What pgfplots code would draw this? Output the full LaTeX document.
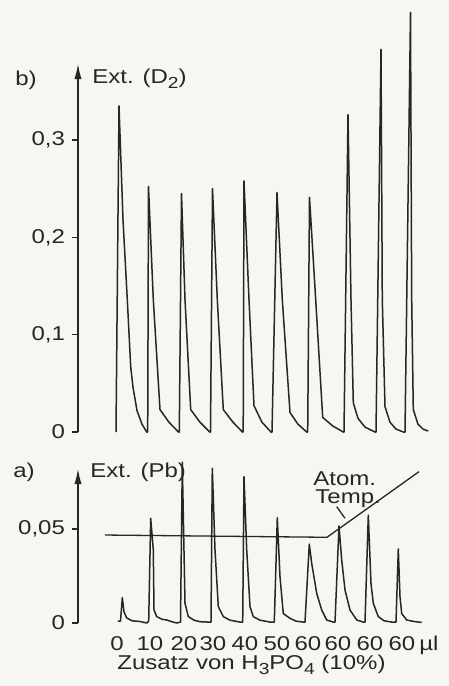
\documentclass[border=0pt]{standalone}
\usepackage{pgfplots}
\pgfplotsset{compat=1.18}
\usepackage{pgfplotstable}
\usepackage{fontspec}
\setmainfont[FakeStretch=1.2]{Liberation Sans}
\usetikzlibrary{arrows.meta}
\definecolor{ink}{RGB}{38,38,38}
\definecolor{paper}{RGB}{246,246,243}
\newcommand{\lsub}[1]{\raisebox{-2.6pt}{\fontsize{8}{9}\selectfont #1}}

% Ext. (D2) trace, x in arbitrary time units
\pgfplotstableread{
x y
116 0
119 0.335
123 0.218
127.3 0.136
130.7 0.067
133 0.046
137 0.022
142 0.008
146.7 0
147.7 0
148.5 0.252
153.3 0.136
160 0.023
169 0.010
178.5 0
179.3 0
181.5 0.245
185 0.136
190.7 0.023
200 0.010
209.8 0
210.5 0
212.5 0.250
217.3 0.136
223.3 0.023
233 0.010
242.5 0
243.2 0
244 0.258
249 0.136
254 0.027
262 0.010
271 0
272 0
277 0.246
282.3 0.136
290 0.020
298 0.008
306.7 0
307.7 0
309.5 0.241
315.7 0.136
322.7 0.015
333 0.006
343.3 0
344 0
348 0.326
351 0.136
353.3 0.030
358 0.014
365 0.005
375 0
376 0
381 0.393
382.3 0.136
385 0.026
390 0.010
396 0.003
403.3 0
405 0
410.5 0.431
411.7 0.136
413.3 0.023
418 0.008
423 0.003
428.3 0.001
}\traceD

% Ext. (Pb) trace
\pgfplotstableread{
x y
118 0.001
120.5 0.001
122.3 0.0135
124 0.006
126.7 0.0027
132 0.0012
140 0.0008
146.7 0
148.7 0.001
150.7 0.0557
153.3 0.039
154 0.007
156.7 0.0034
162 0.002
166.7 0.0016
171.7 0.0007
176.7 0
180.5 0.0005
182.3 0.0855
185 0.0105
188.3 0.0034
194 0.0015
200 0.0007
208.3 0.0005
211 0.0005
212.3 0.0823
215 0.039
218.3 0.0087
223.3 0.0034
230 0.0015
240 0.0005
242.7 0.0005
244 0.0778
246.7 0.039
250 0.0087
253.3 0.0034
260 0.0015
270 0.0005
274.3 0.0005
277.3 0.056
280 0.0246
283.3 0.005
290 0.0025
296 0.001
303.3 0.0005
305 0.0005
309.3 0.042
311.7 0.0317
316.7 0.0158
321.7 0.0069
326.7 0.0016
333.3 0.0005
335 0.0005
339 0.0516
341.7 0.0335
345 0.0176
350 0.0069
356.7 0.0016
363.3 0.0005
365 0.0005
368.3 0.0574
371 0.021
373.3 0.0105
378.3 0.0034
384 0.0012
391.7 0.0005
396 0.0005
398.3 0.0394
400 0.014
401.7 0.005
406.7 0.0016
414 0.0008
421.7 0.0003
}\tracePb

\begin{document}
\fontsize{10}{11}\selectfont
\begin{tikzpicture}[font=\fontsize{10}{11}\selectfont]
\path[use as bounding box, fill=paper] (0,0) rectangle (224.5pt,-343pt);

\pgfplotsset{
  common/.style={
    scale only axis, width=176pt, xmin=78, xmax=430, ymin=0, clip=false,
    scaled y ticks=false,
    axis y line=left,
    y axis line style={ink, line width=1pt, -{Latex[length=8pt,width=3.6pt]}},
    tick align=outside, major tick length=3pt,
    ytick style={ink, line width=0.7pt},
    tick label style={font=\fontsize{10}{11}\selectfont, text=ink},
  }
}

\begin{axis}[common,
  at={(39pt,-216pt)}, anchor=south west,
  height=184.5pt, ymax=0.3791,
  axis x line=none,
  ytick={0,0.1,0.2,0.3},
  yticklabels={{0\hspace{6.5pt}},{0,1},{0,2},{0,3}},
]
\addplot[ink, line width=0.75pt, line join=round] table[x=x, y=y] {\traceD};
\end{axis}

\begin{axis}[common,
  at={(39pt,-311.5pt)}, anchor=south west,
  height=77.5pt, ymax=0.08245,
  axis x line=bottom, x axis line style={draw=none},
  xtick={117,150,184,213,245,277,308,338,370,402,429},
  xticklabels={0,10,20,30,40,50,60,60,60,60,µl},
  xtick style={draw=none},
  xticklabel style={yshift=-1.5pt},
  ytick={0,0.05},
  yticklabels={{0\hspace{7pt}},{0,05}},
]
\addplot[ink, line width=0.75pt, line join=round] table[x=x, y=y] {\tracePb};
\addplot[ink, line width=0.65pt] coordinates {(105,0.0468) (327,0.0456) (419,0.0805)};
\draw[ink, line width=0.65pt] (axis cs:336.7,0.0619) -- (axis cs:345,0.0557);
\end{axis}

\node[anchor=base west, inner sep=0pt, text=ink] at (7.5pt,-42.5pt) {b)};
\node[anchor=base west, inner sep=0pt, text=ink] at (46pt,-41.7pt) {Ext. (D\lsub{2})};
\node[anchor=base west, inner sep=0pt, text=ink] at (6.5pt,-238.5pt) {a)};
\node[anchor=base west, inner sep=0pt, text=ink] at (45pt,-238.8pt) {Ext. (Pb)};
\node[anchor=base west, inner sep=0pt, text=ink] at (156.5pt,-242.5pt) {Atom.};
\node[anchor=base west, inner sep=0pt, text=ink] at (157.5pt,-251.5pt) {Temp.};
\node[anchor=base west, inner sep=0pt, text=ink] at (58.5pt,-334.7pt) {Zusatz von H\lsub{3}PO\lsub{4} (10\%)};
\end{tikzpicture}
\end{document}
